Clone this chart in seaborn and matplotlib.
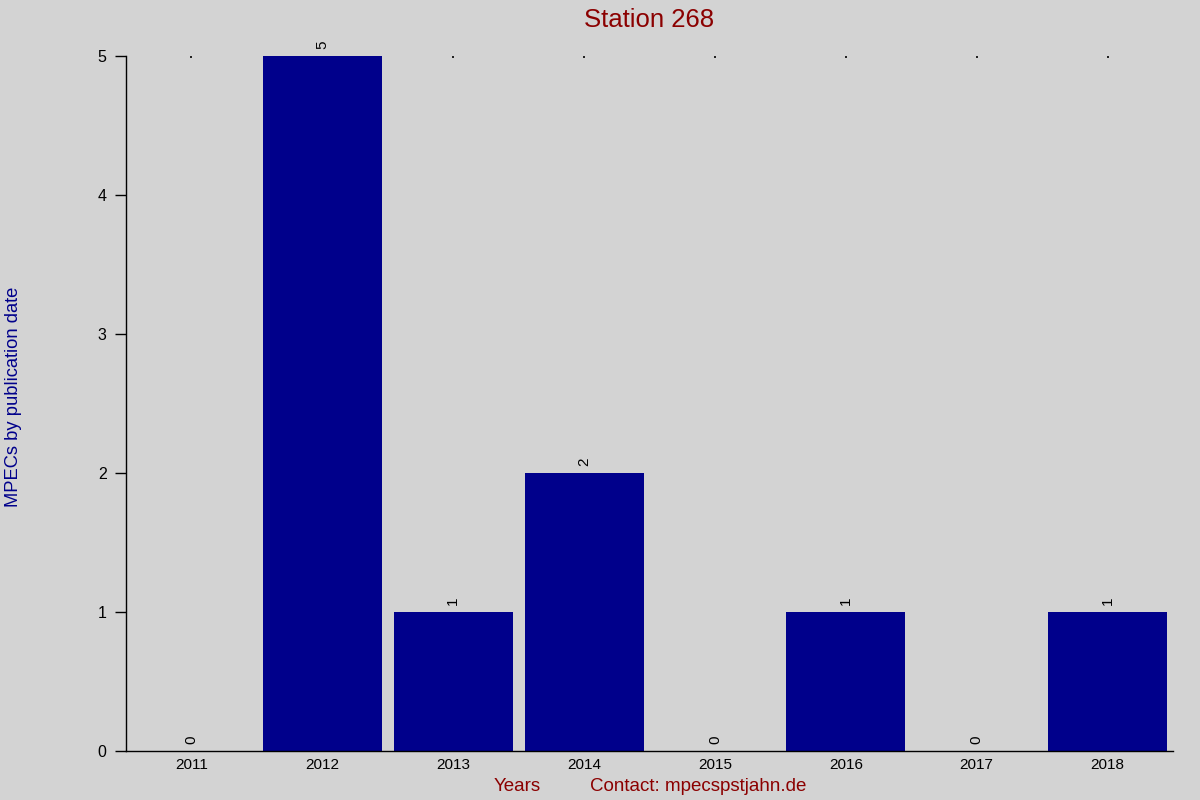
import matplotlib
matplotlib.use("Agg")
import matplotlib.pyplot as plt
import seaborn as sns
import pandas as pd

years = ["2011", "2012", "2013", "2014", "2015", "2016", "2017", "2018"]
counts = [0, 5, 1, 2, 0, 1, 0, 1]
yticks = [0, 1, 2, 3, 4, 5]

sns.set_theme(style="white")
plt.rcParams["font.family"] = ["Liberation Sans", "DejaVu Sans"]

BG = "#d3d3d3"
BAR = "#00008b"
RED = "#8b0000"

df = pd.DataFrame({"year": years, "count": counts})

fig = plt.figure(figsize=(12, 8), dpi=100, facecolor=BG)
ax = fig.add_axes([0.105, 0.06125, 0.8725, 0.86875])
ax.set_facecolor(BG)

sns.barplot(data=df, x="year", y="count", color=BAR, saturation=1, width=0.91,
            linewidth=0, edgecolor=BAR, ax=ax)

ax.set_xlim(-0.5, len(years) - 0.5)
ax.set_ylim(0, max(yticks))
ax.set_yticks(yticks)
ax.set_yticklabels([str(t) for t in yticks], fontsize=11.5, color="black")
ax.tick_params(axis="y", length=8, width=1, color="black", pad=6, left=True)
ax.tick_params(axis="x", bottom=False, top=True, length=1.2, width=1.2, direction="in",
               color="black", labelsize=11, labelcolor="black", pad=5)

for side in ["top", "right"]:
    ax.spines[side].set_visible(False)
for side in ["left", "bottom"]:
    ax.spines[side].set_color("black")
    ax.spines[side].set_linewidth(1)

for i, v in enumerate(counts):
    ax.text(i, v + 0.05, str(v), rotation=90, ha="center", va="bottom",
            fontsize=11, color="black")

ax.set_xlabel("")
ax.set_ylabel("")
fig.text(0.541, 0.975, "Station 268", ha="center", va="center", fontsize=18.5, color=RED)
fig.text(0.0045, 0.504, "MPECs by publication date", rotation=90, ha="left", va="center",
         fontsize=13.2, color=BAR)
fig.text(0.431, 0.017, "Years", ha="center", va="center", fontsize=13.5, color=RED)
fig.text(0.582, 0.017, "Contact: mpecspstjahn.de", ha="center", va="center", fontsize=13.5, color=RED)

fig.savefig("out.png", dpi=100, facecolor=BG)
